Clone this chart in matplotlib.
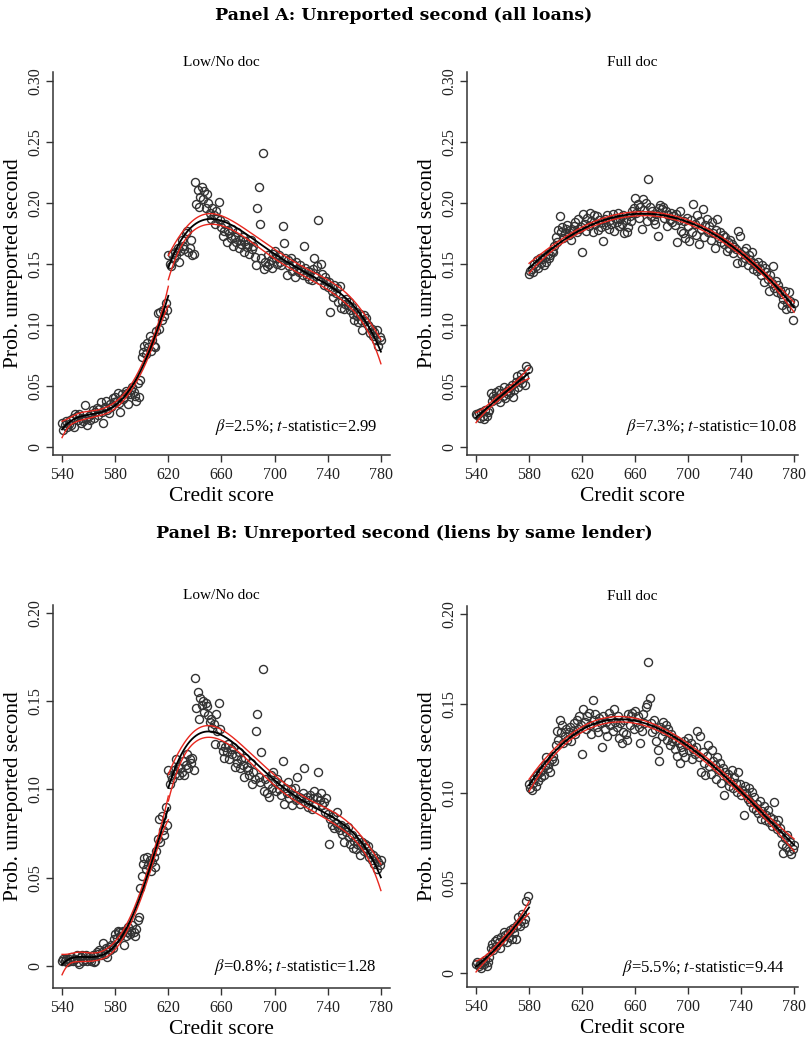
import numpy as np
import matplotlib.pyplot as plt

plt.rcParams['font.family'] = ['Liberation Serif', 'DejaVu Serif']
plt.rcParams['mathtext.fontset'] = 'stix'

scores = np.arange(540, 781)

# Panel A, Low/No doc (one value per credit score 540..780)
a_low = [
    0.020, 0.014, 0.018, 0.021, 0.016, 0.019, 0.022, 0.018, 0.024, 0.016,
    0.027, 0.025, 0.022, 0.027, 0.020, 0.024, 0.021, 0.034, 0.023, 0.018,
    0.025, 0.022, 0.027, 0.030, 0.024, 0.029, 0.032, 0.026, 0.031, 0.037,
    0.029, 0.020, 0.033, 0.038, 0.030, 0.028, 0.035, 0.033, 0.040, 0.037,
    0.041, 0.038, 0.044, 0.036, 0.029, 0.043, 0.039, 0.041, 0.046, 0.044,
    0.035, 0.043, 0.047, 0.049, 0.045, 0.042, 0.038, 0.052, 0.041, 0.055,
    0.074, 0.078, 0.083, 0.076, 0.085, 0.082, 0.091, 0.079, 0.088, 0.083,
    0.082, 0.095, 0.110, 0.097, 0.111, 0.104, 0.112, 0.107, 0.118, 0.112,
    0.157, 0.150, 0.148, 0.158, 0.155, 0.160, 0.157, 0.163, 0.152, 0.161,
    0.170, 0.165, 0.162, 0.175, 0.177, 0.160, 0.163, 0.170, 0.157, 0.158,
    0.217, 0.199, 0.211, 0.197, 0.205, 0.213, 0.203, 0.210, 0.196, 0.207,
    0.200, 0.192, 0.187, 0.196, 0.190, 0.183, 0.193, 0.188, 0.201, 0.186,
    0.180, 0.173, 0.177, 0.183, 0.168, 0.178, 0.175, 0.171, 0.179, 0.165,
    0.172, 0.168, 0.176, 0.163, 0.170, 0.166, 0.172, 0.160, 0.169, 0.164,
    0.166, 0.158, 0.170, 0.162, 0.165, 0.156, 0.149, 0.196, 0.213, 0.183,
    0.155, 0.241, 0.146, 0.152, 0.148, 0.157, 0.150, 0.153, 0.147, 0.158,
    0.161, 0.155, 0.150, 0.157, 0.152, 0.149, 0.181, 0.167, 0.155, 0.141,
    0.153, 0.148, 0.155, 0.144, 0.150, 0.139, 0.152, 0.146, 0.143, 0.149,
    0.145, 0.141, 0.165, 0.147, 0.140, 0.144, 0.138, 0.143, 0.137, 0.146,
    0.155, 0.140, 0.148, 0.186, 0.137, 0.150, 0.142, 0.133, 0.139, 0.136,
    0.131, 0.135, 0.111, 0.128, 0.123, 0.133, 0.126, 0.130, 0.119, 0.132,
    0.114, 0.120, 0.113, 0.117, 0.121, 0.116, 0.119, 0.112, 0.115, 0.109,
    0.104, 0.111, 0.107, 0.102, 0.109, 0.104, 0.096, 0.108, 0.103, 0.106,
    0.100, 0.098, 0.093, 0.097, 0.091, 0.094, 0.088, 0.096, 0.083, 0.090,
    0.088,
]

# Panel A, Full doc
a_full = [
    0.027, 0.026, 0.028, 0.024, 0.029, 0.025, 0.023, 0.030, 0.025, 0.029,
    0.030, 0.044, 0.038, 0.042, 0.040, 0.045, 0.039, 0.047, 0.037, 0.044,
    0.042, 0.049, 0.040, 0.046, 0.043, 0.048, 0.045, 0.051, 0.041, 0.047,
    0.053, 0.058, 0.049, 0.055, 0.060, 0.052, 0.057, 0.051, 0.066, 0.064,
    0.142, 0.144, 0.146, 0.143, 0.150, 0.148, 0.153, 0.147, 0.155, 0.151,
    0.154, 0.149, 0.156, 0.152, 0.158, 0.155, 0.157, 0.161, 0.160, 0.165,
    0.172, 0.168, 0.178, 0.189, 0.176, 0.180, 0.171, 0.175, 0.179, 0.182,
    0.174, 0.178, 0.170, 0.177, 0.181, 0.184, 0.176, 0.187, 0.179, 0.180,
    0.160, 0.191, 0.183, 0.177, 0.188, 0.181, 0.192, 0.185, 0.176, 0.190,
    0.183, 0.189, 0.178, 0.186, 0.180, 0.184, 0.169, 0.187, 0.182, 0.190,
    0.179, 0.186, 0.183, 0.191, 0.177, 0.188, 0.184, 0.192, 0.181, 0.187,
    0.183, 0.190, 0.175, 0.186, 0.176, 0.180, 0.189, 0.185, 0.193, 0.196,
    0.204, 0.192, 0.199, 0.188, 0.197, 0.179, 0.203, 0.194, 0.200, 0.185,
    0.220, 0.197, 0.189, 0.193, 0.186, 0.183, 0.191, 0.173, 0.196, 0.198,
    0.195, 0.197, 0.188, 0.193, 0.181, 0.190, 0.186, 0.192, 0.184, 0.189,
    0.182, 0.191, 0.168, 0.186, 0.193, 0.177, 0.175, 0.185, 0.171, 0.188,
    0.181, 0.169, 0.186, 0.176, 0.199, 0.183, 0.174, 0.190, 0.166, 0.185,
    0.179, 0.195, 0.172, 0.182, 0.187, 0.176, 0.181, 0.170, 0.184, 0.175,
    0.163, 0.178, 0.187, 0.171, 0.176, 0.168, 0.174, 0.166, 0.172, 0.161,
    0.168, 0.163, 0.170, 0.166, 0.159, 0.164, 0.162, 0.151, 0.177, 0.173,
    0.158, 0.152, 0.161, 0.155, 0.163, 0.149, 0.157, 0.153, 0.160, 0.146,
    0.151, 0.148, 0.144, 0.152, 0.146, 0.141, 0.149, 0.135, 0.147, 0.143,
    0.138, 0.128, 0.141, 0.134, 0.148, 0.130, 0.136, 0.127, 0.133, 0.129,
    0.125, 0.116, 0.121, 0.128, 0.113, 0.118, 0.127, 0.120, 0.114, 0.104,
    0.118,
]

# Panel B, Low/No doc
b_low = [
    0.003, 0.004, 0.003, 0.004, 0.002, 0.004, 0.003, 0.005, 0.003, 0.004,
    0.004, 0.006, 0.002, 0.001, 0.005, 0.006, 0.003, 0.004, 0.006, 0.003,
    0.005, 0.004, 0.003, 0.006, 0.002, 0.003, 0.008, 0.007, 0.009, 0.006,
    0.008, 0.013, 0.007, 0.010, 0.005, 0.011, 0.009, 0.012, 0.010, 0.015,
    0.018, 0.016, 0.020, 0.019, 0.017, 0.019, 0.020, 0.012, 0.017, 0.019,
    0.022, 0.018, 0.020, 0.023, 0.019, 0.017, 0.021, 0.026, 0.028, 0.044,
    0.051, 0.058, 0.061, 0.055, 0.062, 0.057, 0.060, 0.054, 0.059, 0.062,
    0.056, 0.065, 0.072, 0.083, 0.070, 0.085, 0.077, 0.074, 0.090, 0.080,
    0.111, 0.103, 0.108, 0.106, 0.111, 0.109, 0.117, 0.113, 0.108, 0.112,
    0.110, 0.116, 0.108, 0.114, 0.120, 0.112, 0.117, 0.115, 0.118, 0.111,
    0.163, 0.146, 0.155, 0.140, 0.152, 0.148, 0.150, 0.144, 0.149, 0.147,
    0.142, 0.138, 0.140, 0.135, 0.137, 0.126, 0.143, 0.133, 0.149, 0.134,
    0.125, 0.122, 0.118, 0.124, 0.121, 0.126, 0.117, 0.123, 0.120, 0.124,
    0.113, 0.119, 0.115, 0.121, 0.112, 0.117, 0.114, 0.107, 0.118, 0.113,
    0.111, 0.108, 0.115, 0.103, 0.110, 0.106, 0.133, 0.143, 0.107, 0.104,
    0.121, 0.168, 0.099, 0.106, 0.098, 0.103, 0.096, 0.108, 0.101, 0.110,
    0.104, 0.099, 0.106, 0.100, 0.103, 0.097, 0.116, 0.092, 0.101, 0.098,
    0.104, 0.095, 0.100, 0.091, 0.097, 0.101, 0.094, 0.107, 0.096, 0.092,
    0.095, 0.098, 0.112, 0.093, 0.096, 0.090, 0.094, 0.097, 0.089, 0.095,
    0.099, 0.092, 0.096, 0.110, 0.094, 0.098, 0.091, 0.093, 0.087, 0.095,
    0.086, 0.069, 0.083, 0.080, 0.085, 0.078, 0.081, 0.087, 0.079, 0.077,
    0.080, 0.075, 0.070, 0.078, 0.076, 0.079, 0.073, 0.069, 0.074, 0.067,
    0.071, 0.066, 0.069, 0.072, 0.063, 0.068, 0.070, 0.065, 0.069, 0.067,
    0.068, 0.062, 0.064, 0.060, 0.063, 0.058, 0.061, 0.055, 0.059, 0.057,
    0.060,
]

# Panel B, Full doc
b_full = [
    0.005, 0.006, 0.004, 0.005, 0.003, 0.006, 0.005, 0.007, 0.004, 0.006,
    0.009, 0.014, 0.016, 0.013, 0.018, 0.015, 0.019, 0.017, 0.014, 0.020,
    0.018, 0.023, 0.021, 0.017, 0.022, 0.020, 0.024, 0.019, 0.025, 0.022,
    0.019, 0.027, 0.031, 0.026, 0.029, 0.033, 0.028, 0.030, 0.040, 0.043,
    0.105, 0.103, 0.102, 0.106, 0.108, 0.104, 0.110, 0.107, 0.112, 0.109,
    0.113, 0.110, 0.116, 0.120, 0.114, 0.117, 0.112, 0.119, 0.121, 0.118,
    0.127, 0.135, 0.130, 0.141, 0.134, 0.138, 0.128, 0.132, 0.136, 0.130,
    0.134, 0.137, 0.129, 0.135, 0.139, 0.133, 0.141, 0.136, 0.143, 0.138,
    0.122, 0.147, 0.140, 0.136, 0.143, 0.145, 0.138, 0.133, 0.152, 0.141,
    0.144, 0.137, 0.134, 0.142, 0.139, 0.126, 0.143, 0.136, 0.140, 0.132,
    0.145, 0.138, 0.142, 0.135, 0.147, 0.140, 0.137, 0.143, 0.131, 0.139,
    0.128, 0.134, 0.141, 0.133, 0.130, 0.144, 0.138, 0.143, 0.145, 0.136,
    0.146, 0.140, 0.143, 0.137, 0.128, 0.135, 0.144, 0.139, 0.148, 0.150,
    0.173, 0.153, 0.139, 0.134, 0.141, 0.136, 0.129, 0.124, 0.118, 0.137,
    0.132, 0.140, 0.135, 0.138, 0.130, 0.136, 0.127, 0.133, 0.129, 0.131,
    0.125, 0.130, 0.121, 0.128, 0.117, 0.126, 0.123, 0.129, 0.120, 0.127,
    0.131, 0.124, 0.128, 0.119, 0.125, 0.122, 0.126, 0.135, 0.120, 0.132,
    0.112, 0.123, 0.117, 0.110, 0.121, 0.127, 0.115, 0.111, 0.124, 0.118,
    0.116, 0.108, 0.120, 0.113, 0.117, 0.106, 0.114, 0.099, 0.112, 0.109,
    0.111, 0.104, 0.107, 0.113, 0.103, 0.109, 0.106, 0.101, 0.112, 0.105,
    0.099, 0.102, 0.088, 0.104, 0.100, 0.097, 0.103, 0.095, 0.101, 0.092,
    0.098, 0.091, 0.094, 0.089, 0.096, 0.086, 0.090, 0.093, 0.085, 0.088,
    0.091, 0.084, 0.087, 0.082, 0.086, 0.095, 0.083, 0.080, 0.085, 0.081,
    0.078, 0.072, 0.067, 0.075, 0.070, 0.077, 0.068, 0.073, 0.066, 0.069,
    0.071,
]

notes = {
    'a_low': r'$\beta$=2.5%; $t$-statistic=2.99',
    'a_full': r'$\beta$=7.3%; $t$-statistic=10.08',
    'b_low': r'$\beta$=0.8%; $t$-statistic=1.28',
    'b_full': r'$\beta$=5.5%; $t$-statistic=9.44',
}

RED = '#e8271e'
GREY = '#333333'


def fit_band(x, y, deg, lo, hi):
    # polynomial fit with 95% confidence band
    t = (x - 660) / 100.0
    X = np.vander(t, deg + 1)
    coef, *_ = np.linalg.lstsq(X, y, rcond=None)
    resid = y - X @ coef
    s2 = resid @ resid / (len(y) - deg - 1)
    cov = s2 * np.linalg.inv(X.T @ X)
    xs = np.linspace(lo, hi, 200)
    Xs = np.vander((xs - 660) / 100.0, deg + 1)
    yhat = Xs @ coef
    se = np.sqrt(np.einsum('ij,jk,ik->i', Xs, cov, Xs))
    return xs, yhat, yhat - 1.96 * se, yhat + 1.96 * se


def draw(ax, y, cutoff, degs, title, note, ylim, yticks, note_xy):
    y = np.asarray(y)
    ax.plot(scores, y, 'o', ms=5.8, mfc='none', mec=GREY, mew=1.0, zorder=2)
    left = scores < cutoff
    for mask, deg, lo, hi in [(left, degs[0], 540, cutoff), (~left, degs[1], cutoff, 780)]:
        xs, yh, lb, ub = fit_band(scores[mask], y[mask], deg, lo, hi)
        ax.plot(xs, lb, color=RED, lw=1.0, zorder=3)
        ax.plot(xs, ub, color=RED, lw=1.0, zorder=3)
        ax.plot(xs, yh, color='black', lw=1.3, zorder=4)
    ax.set_xlim(533.2, 786.8 if cutoff == 620 else 783)
    ax.set_ylim(*ylim)
    ax.set_xticks(range(540, 781, 40))
    ax.set_yticks(yticks)
    ax.set_yticklabels(['0' if v == 0 else '%.2f' % v for v in yticks],
                       rotation=90, va='center')
    ax.spines['top'].set_visible(False)
    ax.spines['right'].set_visible(False)
    for s in ['left', 'bottom']:
        ax.spines[s].set_color(GREY)
        ax.spines[s].set_linewidth(1.1)
    ax.tick_params(direction='out', length=5, width=1.0, color=GREY,
                   labelsize=11.5, labelcolor='#222222')
    ax.tick_params(axis='y', pad=2)
    ax.set_title(title, fontsize=11, pad=4)
    ax.set_xlabel('Credit score', fontsize=15.5, labelpad=3)
    ax.set_ylabel('Prob. unreported second', fontsize=15.5, labelpad=3)
    ax.text(note_xy[0], note_xy[1], note, transform=ax.transAxes,
            ha='right', va='center', fontsize=12)


fig = plt.figure(figsize=(8.08, 10.44), dpi=100)

ax1 = fig.add_axes([0.0656, 0.5642, 0.417, 0.3669])
ax2 = fig.add_axes([0.578, 0.5642, 0.4097, 0.3669])
ax3 = fig.add_axes([0.0656, 0.0536, 0.417, 0.3669])
ax4 = fig.add_axes([0.578, 0.0546, 0.4097, 0.3650])

ticks_a = [0, 0.05, 0.10, 0.15, 0.20, 0.25, 0.30]
ticks_b = [0, 0.05, 0.10, 0.15, 0.20]

draw(ax1, a_low, 620, (4, 4), 'Low/No doc', notes['a_low'], (-0.0066, 0.3074), ticks_a, (0.964, 0.073))
draw(ax2, a_full, 580, (2, 3), 'Full doc', notes['a_full'], (-0.0066, 0.3074), ticks_a, (0.997, 0.073))
draw(ax3, b_low, 620, (4, 4), 'Low/No doc', notes['b_low'], (-0.0125, 0.2045), ticks_b, (0.961, 0.055))
draw(ax4, b_full, 580, (2, 3), 'Full doc', notes['b_full'], (-0.0078, 0.2044), ticks_b, (0.96, 0.05))

fig.text(0.5, 0.9856, 'Panel A: Unreported second (all loans)', ha='center', va='center',
         fontsize=12.5, fontweight='bold', family='DejaVu Serif')
fig.text(0.5, 0.4894, 'Panel B: Unreported second (liens by same lender)', ha='center', va='center',
         fontsize=12.5, fontweight='bold', family='DejaVu Serif')

fig.savefig('out.png', dpi=100)
